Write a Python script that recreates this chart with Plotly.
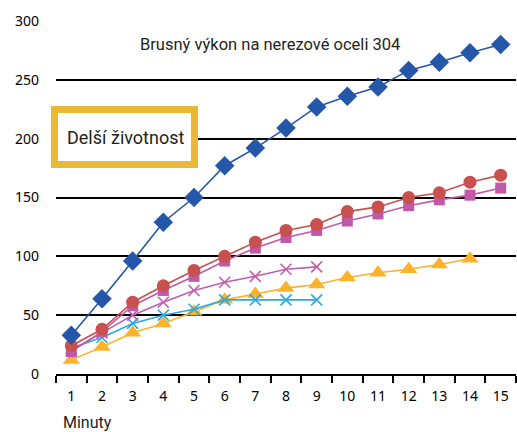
import plotly.graph_objects as go

minutes = [str(m) for m in range(1, 16)]

blue_diamond = [33, 64, 96, 129, 150, 177, 192, 209, 227, 236, 244, 258, 265, 273, 280]
red_circle = [24, 38, 61, 75, 88, 100, 112, 122, 127, 138, 142, 150, 154, 163, 169]
pink_square = [19, 36, 58, 71, 83, 96, 107, 116, 122, 130, 136, 143, 148, 152, 158]
pink_x = [20, 35, 50, 61, 71, 78, 83, 89, 91]
cyan_x = [22, 31, 43, 50, 55, 63, 63, 63, 63]
orange_tri = [12, 23, 35, 43, 53, 63, 68, 73, 76, 82, 86, 89, 93, 98]

W, H = 517, 432
L, R, T, B = 56, 1, 21, 58


def px(x):
    return (x - L) / (W - L - R)


def py(y):
    return 1 - (y - T) / (H - T - B)


fig = go.Figure()


def add(y, color, symbol, size, lw=1.6):
    fig.add_trace(
        go.Scatter(
            x=minutes[: len(y)],
            y=y,
            mode="lines+markers",
            line=dict(color=color, width=1.6),
            marker=dict(symbol=symbol, size=size, color=color, line=dict(color=color, width=lw)),
            showlegend=False,
        )
    )


add(orange_tri, "#FDB22B", "triangle-up", 15, 0)
add(cyan_x, "#2BA9E1", "x-thin", 11, 1.6)
add(pink_x, "#C05FAE", "x-thin", 11, 1.6)
add(pink_square, "#C05AA8", "square", 11, 0)
add(red_circle, "#C8504F", "circle", 13, 0)
add(blue_diamond, "#2457A7", "diamond", 15, 0)

font_c = "Roboto"

# yellow box
fig.add_shape(
    type="rect", xref="paper", yref="paper",
    x0=px(54.5), x1=px(194.5), y0=py(164.5), y1=py(109.5),
    line=dict(color="#E9B935", width=7), fillcolor="white", layer="above",
)
fig.add_annotation(
    x=px(125), y=py(137), xref="paper", yref="paper", xanchor="center", yanchor="middle",
    text="Delší životnost", showarrow=False,
    font=dict(family=font_c, size=18, color="#231f20"),
)
fig.add_annotation(
    x=px(270), y=py(45), xref="paper", yref="paper", xanchor="center", yanchor="middle",
    text="Brusný výkon na nerezové oceli 304", showarrow=False,
    font=dict(family=font_c, size=16.5, color="#231f20"),
)
fig.add_annotation(
    x=px(61), y=py(423), xref="paper", yref="paper", xanchor="left", yanchor="middle",
    text="Minuty", showarrow=False,
    font=dict(family=font_c, size=16, color="#231f20"),
)

fig.update_xaxes(
    type="category", range=[-0.5, 14.5], showline=True, linecolor="black", linewidth=1.5,
    ticks="outside", tickson="boundaries", ticklen=7, tickcolor="black", tickwidth=1.5,
    showgrid=False, automargin=False, ticklabelstandoff=8,
    tickfont=dict(family="Noto Sans", size=14, color="black"),
)
fig.update_yaxes(
    range=[0, 300], tickvals=[0, 50, 100, 150, 200, 250, 300],
    showgrid=True, gridcolor="black", gridwidth=1.5, zeroline=False,
    automargin=False, ticklabelstandoff=16,
    tickfont=dict(family="Noto Sans", size=14, color="black"),
)
fig.update_layout(
    width=W, height=H, margin=dict(l=L, r=R, t=T, b=B),
    plot_bgcolor="white", paper_bgcolor="white",
)
fig.write_html(
    "out.html",
    config={"displayModeBar": False},
    post_script="document.body.style.margin='0';",
)
